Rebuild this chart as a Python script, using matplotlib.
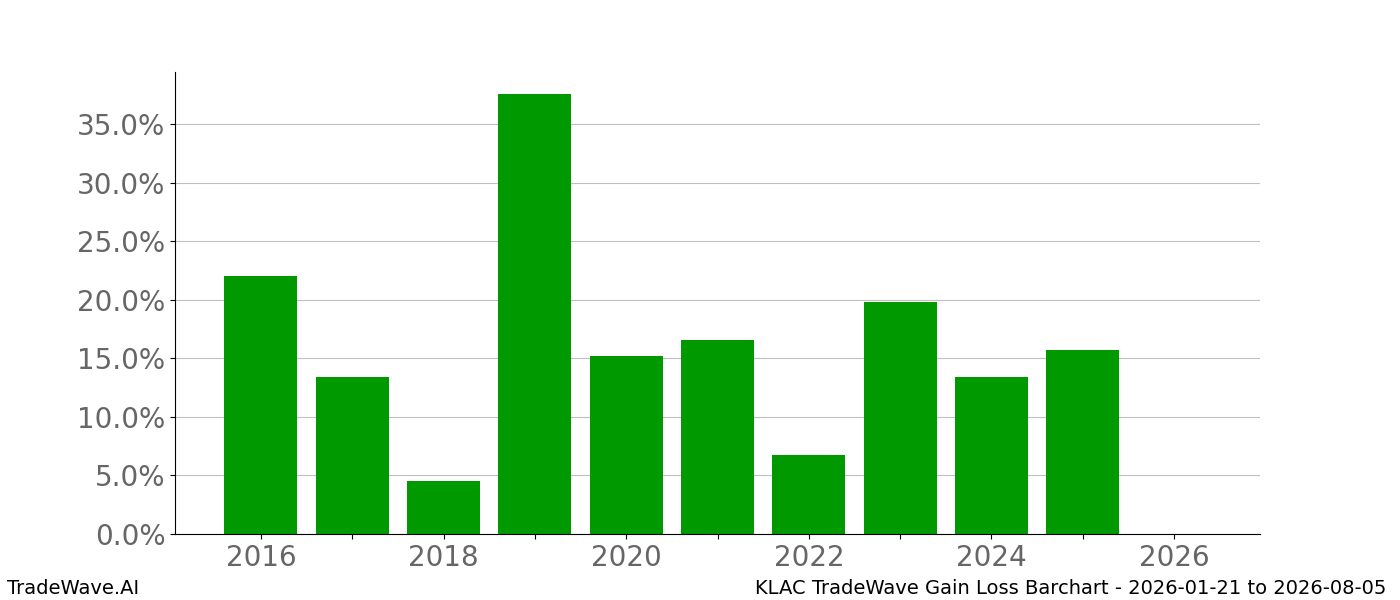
import numpy as np
import matplotlib
matplotlib.use('Agg')
import matplotlib.pyplot as plt
from matplotlib.ticker import FuncFormatter

# yearly gain/loss in percent
years = [2016, 2017, 2018, 2019, 2020, 2021, 2022, 2023, 2024, 2025, 2026]
gains = [22.05, 13.4, 4.53, 37.6, 15.2, 16.57, 6.74, 19.8, 13.4, 15.72, 0.0]

fig, ax = plt.subplots(figsize=(14, 6), dpi=100)
ax.bar(years, gains, width=0.8, color='#009900', zorder=2)

ax.set_xticks(years)
ax.set_xticklabels([str(y) if y % 2 == 0 else '' for y in years])
ax.yaxis.set_major_formatter(FuncFormatter(lambda v, p: f'{v:.1f}%'))
ax.tick_params(axis='both', labelsize=20, labelcolor='#666666')
ax.grid(axis='y', color='#c0c0c0', linewidth=0.8, zorder=0)
ax.set_axisbelow(True)
ax.spines['top'].set_visible(False)
ax.spines['right'].set_visible(False)

fig.text(0.005, 0.01, 'TradeWave.AI', fontsize=14)
fig.text(0.99, 0.01, 'KLAC TradeWave Gain Loss Barchart - 2026-01-21 to 2026-08-05',
         fontsize=14, ha='right')

fig.savefig('out.png')
